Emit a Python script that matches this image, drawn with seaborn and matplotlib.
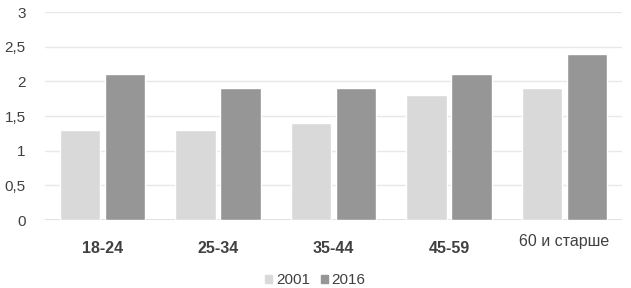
import numpy as np
import pandas as pd
import matplotlib.pyplot as plt
import seaborn as sns

# Data
groups = ['18-24', '25-34', '35-44', '45-59', '60 и старше']
v2001 = [1.3, 1.3, 1.4, 1.8, 1.9]
v2016 = [2.1, 1.9, 1.9, 2.1, 2.4]
years = ['2001', '2016']
colors = ['#d9d9d9', '#969696']

df = pd.DataFrame({
    'group': groups * 2,
    'value': v2001 + v2016,
    'year': [years[0]] * len(groups) + [years[1]] * len(groups),
})

sns.set_style('white')
plt.rcParams['font.family'] = ['Liberation Sans', 'DejaVu Sans']

fig = plt.figure(figsize=(6.31, 2.88), dpi=100)
ax = fig.add_axes([0.0713, 0.236, 0.9144, 0.722])

sns.barplot(data=df, x='group', y='value', hue='year', palette=colors,
            width=0.78, gap=0.1, ax=ax, legend=False)

ax.set_ylim(0, 3)
ax.set_xlim(-0.5, 4.5)
yt = np.arange(0, 3.01, 0.5)
ax.set_yticks(yt)
ax.set_yticklabels([('%g' % t).replace('.', ',') for t in yt], fontsize=11, color='#404040')
ax.yaxis.grid(True, color='#e8e8e8', linewidth=1)
ax.set_axisbelow(True)
ax.axhline(0, color='#d9d9d9', linewidth=1.2, zorder=0)
ax.tick_params(axis='y', length=0, pad=14)
ax.tick_params(axis='x', length=0, pad=15)
ax.set_xticks(range(len(groups)))
ax.set_xticklabels(groups, fontsize=11.5, color='#404040')
for i, lab in enumerate(ax.get_xticklabels()):
    if i < 4:
        lab.set_fontweight('bold')
    else:
        lab.set_y(0.035)
ax.set_xlabel('')
ax.set_ylabel('')
for s in ax.spines.values():
    s.set_visible(False)

handles = [plt.Rectangle((0, 0), 1, 1, color=c) for c in colors]
fig.legend(handles, years, loc='lower center', bbox_to_anchor=(0.5, -0.045), ncol=2,
           frameon=False, fontsize=11, handlelength=0.45, handleheight=0.45,
           handletextpad=0.25, columnspacing=0.7, labelcolor='#404040')

fig.savefig('out.png', dpi=100)
